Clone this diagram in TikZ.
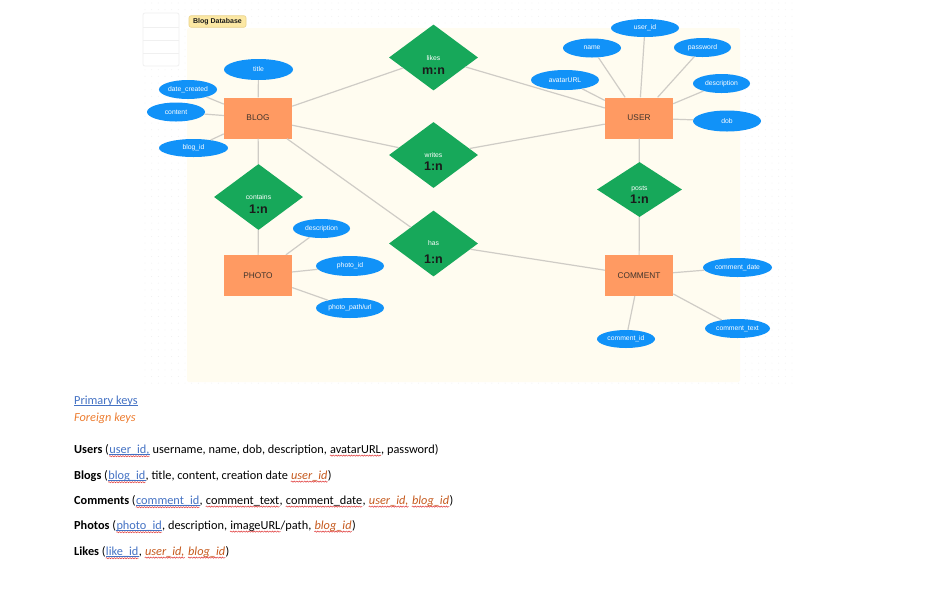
\documentclass[tikz,border=0pt]{standalone}
\usepackage{fontspec}
\setmainfont{Liberation Sans}
\newfontfamily\calibri{Carlito}
\usetikzlibrary{shapes.geometric,decorations.pathmorphing}
\definecolor{canvasbg}{HTML}{FFFCF0}
\definecolor{entorange}{HTML}{FF9A62}
\definecolor{enttext}{HTML}{40342C}
\definecolor{relgreen}{HTML}{17A85A}
\definecolor{attrblue}{HTML}{1192F8}
\definecolor{conngray}{HTML}{CFCCC6}
\definecolor{cardblack}{HTML}{1A1A1A}
\definecolor{tagfill}{HTML}{FCE8A4}
\definecolor{tagdraw}{HTML}{EAD28A}
\definecolor{dotgray}{HTML}{EEEEEE}
\definecolor{panelgray}{HTML}{F0F0F0}
\definecolor{pkblue}{HTML}{4472C4}
\definecolor{fkorange}{HTML}{C65A1E}
\definecolor{legorange}{HTML}{ED7D31}
\definecolor{spellred}{HTML}{E03A3A}
\tikzset{
  ent/.style={rectangle, fill=entorange, minimum width=68, minimum height=41, inner sep=0, text=enttext, font=\fontsize{8.3}{10}\selectfont},
  rel/.style={diamond, fill=relgreen, inner sep=0, minimum width=89, minimum height=66},
  attr/.style={ellipse, fill=attrblue, inner sep=0, text=white, font=\fontsize{6.8}{8}\selectfont},
  conn/.style={draw=conngray, line width=1.2},
  rname/.style={text=white, inner sep=0, font=\fontsize{6.8}{8}\selectfont},
  rcard/.style={text=cardblack, inner sep=0, font=\bfseries\fontsize{12.5}{15}\selectfont},
  seg/.style={anchor=base west, inner sep=0, font=\calibri\fontsize{12.3}{15}\selectfont},
  pkseg/.style={seg, text=pkblue},
  fkseg/.style={seg, text=fkorange, font=\calibri\itshape\fontsize{12.3}{15}\selectfont},
  pkul/.style={draw=pkblue, line width=0.6},
  spell/.style={draw=spellred, line width=0.5, decorate, decoration={snake, amplitude=0.6, segment length=2.6}},
}
\newcommand\ulpk[1]{\draw[pkul] ([yshift=-1.5]#1.base west) -- ([yshift=-1.5]#1.base east);\draw[spell] ([yshift=-3.2]#1.base west) -- ([yshift=-3.2]#1.base east);}
\newcommand\ulsp[1]{\draw[spell] ([yshift=-2.6]#1.base west) -- ([yshift=-2.6]#1.base east);}
\begin{document}
\begin{tikzpicture}[x=1pt,y=-1pt]
\useasboundingbox[fill=white] (0,0) rectangle (930,598);
% dot grid
\foreach \i in {0,...,97}{\foreach \j in {0,...,57}{\fill[dotgray] (145+\i*6.67,3+\j*6.67) circle (0.45);}}
% faint side panel
\fill[white] (143,13) rectangle (179,66);
\draw[panelgray, rounded corners=2, line width=0.8] (143,13) rectangle (179,66);
\draw[panelgray, line width=0.8] (143,27) -- (179,27) (143,40) -- (179,40) (143,53) -- (179,53);
% canvas
\fill[canvasbg, rounded corners=2] (187,28) rectangle (740,382);
\node[fill=tagfill, draw=tagdraw, rounded corners=2, line width=0.6, minimum width=57, minimum height=11.5, inner sep=0, font=\bfseries\fontsize{7}{8}\selectfont, text=cardblack] (tag) at (217.5,21.5) {Blog Database};
% entities
\node[ent] (blog) at (258,118) {BLOG};
\node[ent] (user) at (639,118) {USER};
\node[ent] (photo) at (258,275.5) {PHOTO};
\node[ent] (comment) at (639,275.5) {COMMENT};
% relationships
\node[rel] (likes) at (433.5,57.5) {};
\node[rel] (writes) at (433.5,155) {};
\node[rel] (has) at (433.5,243.5) {};
\node[rel] (contains) at (258.5,197) {};
\node[rel, minimum width=85, minimum height=55] (posts) at (639.5,189.5) {};
\node[rname] (likesn) at (433.5,58) {likes};
\node[rcard] (likesc) at (433.5,71) {m:n};
\node[rname] (writesn) at (433.5,155) {writes};
\node[rcard] (writesc) at (433.5,166) {1:n};
\node[rname] (hasn) at (433.5,243) {has};
\node[rcard] (hasc) at (433.5,259) {1:n};
\node[rname] (containsn) at (258.5,197) {contains};
\node[rcard] (containsc) at (258.5,209) {1:n};
\node[rname] (postsn) at (639.5,189) {posts};
\node[rcard] (postsc) at (639.5,199) {1:n};
% attributes
\node[attr, minimum width=69, minimum height=21] (title) at (258.5,69.5) {title};
\node[attr, minimum width=58, minimum height=19] (datec) at (188,89.5) {date\_created};
\node[attr, minimum width=58, minimum height=19] (content) at (176,112) {content};
\node[attr, minimum width=69, minimum height=18] (blogid) at (193.5,148) {blog\_id};
\node[attr, minimum width=68, minimum height=18] (userid) at (645,28) {user\_id};
\node[attr, minimum width=58, minimum height=19] (name) at (592,48) {name};
\node[attr, minimum width=57, minimum height=19] (password) at (702.5,47.5) {password};
\node[attr, minimum width=68, minimum height=20] (avatar) at (565,80) {avatarURL};
\node[attr, minimum width=57, minimum height=19] (udesc) at (721.5,83.5) {description};
\node[attr, minimum width=68, minimum height=21] (dob) at (727,121) {dob};
\node[attr, minimum width=57, minimum height=19] (pdesc) at (321.5,228.5) {description};
\node[attr, minimum width=68, minimum height=20] (photoid) at (350,266) {photo\_id};
\node[attr, minimum width=68, minimum height=20] (photopath) at (350,308) {photo\_path/url};
\node[attr, minimum width=69, minimum height=19] (cdate) at (737.5,267.5) {comment\_date};
\node[attr, minimum width=65, minimum height=19] (ctext) at (737.5,328.5) {comment\_text};
\node[attr, minimum width=58, minimum height=18] (cid) at (626,339) {comment\_id};
% connectors
\draw[conn] (blog) -- (likes);
\draw[conn] (likes) -- (user);
\draw[conn] (blog) -- (writes);
\draw[conn] (writes) -- (user);
\draw[conn] (blog) -- (has);
\draw[conn] (has) -- (comment);
\draw[conn] (blog) -- (contains);
\draw[conn] (contains) -- (photo);
\draw[conn] (user) -- (posts);
\draw[conn] (posts) -- (comment);
\draw[conn] (blog) -- (title);
\draw[conn] (blog) -- (datec);
\draw[conn] (blog) -- (content);
\draw[conn] (blog) -- (blogid);
\draw[conn] (user) -- (userid);
\draw[conn] (user) -- (name);
\draw[conn] (user) -- (password);
\draw[conn] (user) -- (avatar);
\draw[conn] (user) -- (udesc);
\draw[conn] (user) -- (dob);
\draw[conn] (photo) -- (pdesc);
\draw[conn] (photo) -- (photoid);
\draw[conn] (photo) -- (photopath);
\draw[conn] (comment) -- (cdate);
\draw[conn] (comment) -- (ctext);
\draw[conn] (comment) -- (cid);
% legend
\node[pkseg] (legpk) at (74,404) {Primary keys};
\draw[pkul] ([yshift=-1.5]legpk.base west) -- ([yshift=-1.5]legpk.base east);
\node[fkseg, text=legorange] (legfk) at (74,421) {Foreign keys};
% Users
\node[seg] (u1) at (74,453) {\textbf{Users} (};
\node[pkseg] (u2) at (u1.base east) {user\_id,};
\node[seg] (u3) at (u2.base east) {\ username, name, dob, description,\ \mbox{}};
\node[seg] (u4) at (u3.base east) {avatarURL};
\node[seg] (u5) at (u4.base east) {, password)};
\ulpk{u2}\ulsp{u4}
% Blogs
\node[seg] (b1) at (74,479) {\textbf{Blogs} (};
\node[pkseg] (b2) at (b1.base east) {blog\_id};
\node[seg] (b3) at (b2.base east) {, title, content, creation date\ \mbox{}};
\node[fkseg] (b4) at (b3.base east) {user\_id};
\node[seg] (b5) at (b4.base east) {)};
\ulpk{b2}\ulsp{b4}
% Comments
\node[seg] (c1) at (74,504) {\textbf{Comments} (};
\node[pkseg] (c2) at (c1.base east) {comment\_id};
\node[seg] (c3) at (c2.base east) {,\ \mbox{}};
\node[seg] (c4) at (c3.base east) {comment\_text};
\node[seg] (c5) at (c4.base east) {,\ \mbox{}};
\node[seg] (c6) at (c5.base east) {comment\_date};
\node[seg] (c7) at (c6.base east) {,\ \mbox{}};
\node[fkseg] (c8) at (c7.base east) {user\_id,};
\node[seg] (c9) at (c8.base east) {\ \mbox{}};
\node[fkseg] (c10) at (c9.base east) {blog\_id};
\node[seg] (c11) at (c10.base east) {)};
\ulpk{c2}\ulsp{c4}\ulsp{c6}\ulsp{c8}\ulsp{c10}
% Photos
\node[seg] (p1) at (74,529) {\textbf{Photos} (};
\node[pkseg] (p2) at (p1.base east) {photo\_id};
\node[seg] (p3) at (p2.base east) {, description,\ \mbox{}};
\node[seg] (p4) at (p3.base east) {imageURL};
\node[seg] (p5) at (p4.base east) {/path,\ \mbox{}};
\node[fkseg] (p6) at (p5.base east) {blog\_id};
\node[seg] (p7) at (p6.base east) {)};
\ulpk{p2}\ulsp{p4}\ulsp{p6}
% Likes
\node[seg] (l1) at (74,555) {\textbf{Likes} (};
\node[pkseg] (l2) at (l1.base east) {like\_id};
\node[seg] (l3) at (l2.base east) {,\ \mbox{}};
\node[fkseg] (l4) at (l3.base east) {user\_id,};
\node[seg] (l5) at (l4.base east) {\ \mbox{}};
\node[fkseg] (l6) at (l5.base east) {blog\_id};
\node[seg] (l7) at (l6.base east) {)};
\ulpk{l2}\ulsp{l4}\ulsp{l6}
\end{tikzpicture}
\end{document}
